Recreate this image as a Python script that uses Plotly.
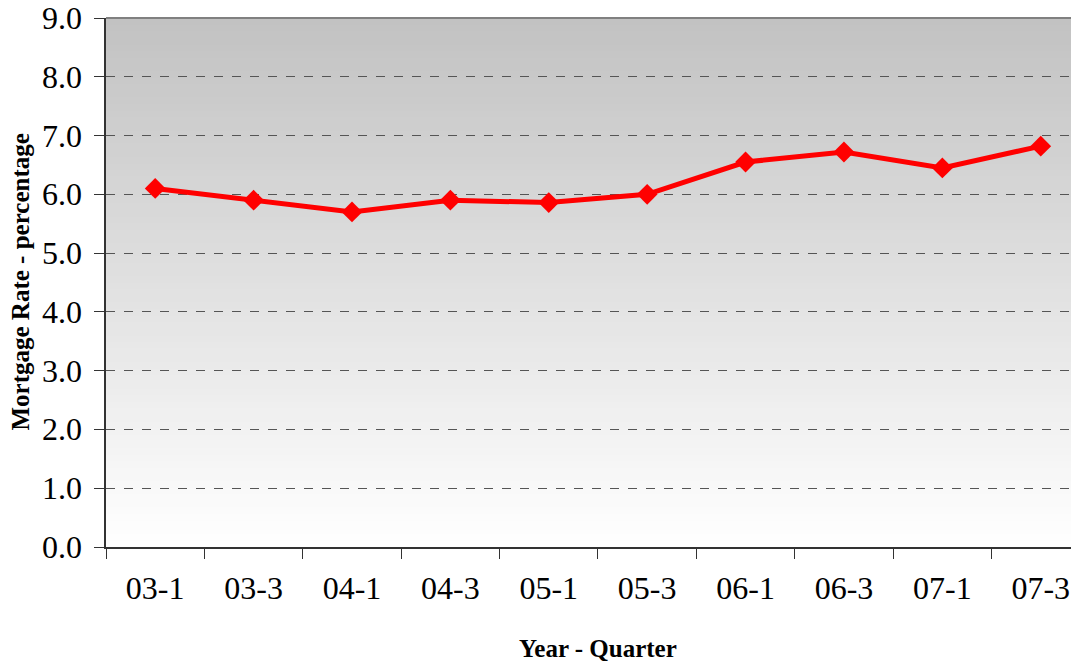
import plotly.graph_objects as go

quarters = ["03-1", "03-3", "04-1", "04-3", "05-1", "05-3", "06-1", "06-3", "07-1", "07-3"]
rates = [6.1, 5.9, 5.7, 5.9, 5.86, 6.0, 6.55, 6.72, 6.45, 6.82]
y_ticks = [0, 1, 2, 3, 4, 5, 6, 7, 8, 9]

x_title = "Year - Quarter"
y_title = "Mortgage Rate - percentage"

FONT = "Liberation Serif, Times New Roman, serif"
TICK_LEN = 10

fig = go.Figure()
fig.add_trace(go.Scatter(
    x=quarters, y=rates, mode="lines+markers",
    line=dict(color="#ff0000", width=5),
    marker=dict(symbol="diamond", size=16, color="#ff0000"),
    showlegend=False,
))

# vertical gradient background (gray at top to white at bottom)
shapes = []
n = 80
top = (194, 194, 194)
bot = (255, 255, 255)
for i in range(n):
    t = i / (n - 1)
    c = tuple(round(bot[k] + (top[k] - bot[k]) * t) for k in range(3))
    shapes.append(dict(type="rect", xref="paper", yref="paper",
                       x0=0, x1=1, y0=i / n, y1=min(1.0, (i + 2) / n),
                       fillcolor="rgb(%d,%d,%d)" % c, line=dict(width=0),
                       layer="below"))
shapes.append(dict(type="line", xref="paper", yref="paper", x0=0, x1=1, y0=1, y1=1,
                   line=dict(color="#808080", width=2), layer="above"))
fig.update_layout(shapes=shapes)

# y tick labels placed on the y axis scale (the top one sits at the page edge)
for v in y_ticks:
    fig.add_annotation(x=0, xref="paper", y=v, yref="y", text="%.1f" % v,
                       showarrow=False, xanchor="right", yanchor="middle",
                       xshift=-22, font=dict(size=32, family=FONT, color="black"))

# axis titles
fig.add_annotation(x=0, xref="paper", y=0.5, yref="paper", text="<b>" + y_title + "</b>",
                   textangle=-90, showarrow=False, xanchor="center", yanchor="middle",
                   xshift=-86, font=dict(size=25, family=FONT, color="black"))
fig.add_annotation(x=0.5015, xref="paper", y=0, yref="paper", text="<b>" + x_title + "</b>",
                   showarrow=False, xanchor="center", yanchor="middle",
                   yshift=-101, font=dict(size=25, family=FONT, color="black"))

fig.update_layout(
    width=1079, height=661,
    margin=dict(l=98, r=0, t=10, b=122, autoexpand=False),
    paper_bgcolor="white", plot_bgcolor="white",
    font=dict(family=FONT, color="black"),
    xaxis=dict(
        type="category", range=[-0.5, 9.47], automargin=False,
        tickson="boundaries", ticks="outside", ticklen=TICK_LEN, tickcolor="#333",
        showline=True, linecolor="#333", linewidth=2,
        showgrid=False, tickfont=dict(size=32, family=FONT),
        ticklabelstandoff=12,
    ),
    yaxis=dict(
        range=[0, 9], tickvals=y_ticks, showticklabels=False,
        automargin=False,
        ticks="outside", ticklen=TICK_LEN, tickcolor="#333",
        showline=True, linecolor="#333", linewidth=2,
        showgrid=True, gridcolor="#555", griddash="dash", gridwidth=1,
        zeroline=False,
    ),
)

fig.write_html("out.html")
